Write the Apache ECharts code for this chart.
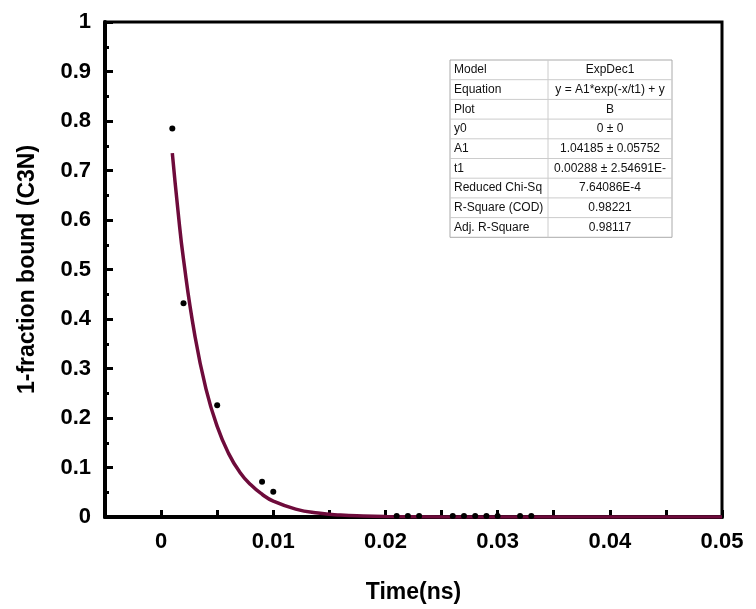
<!DOCTYPE html>
<html>
<head>
<meta charset="UTF-8">
<style>
  * { margin: 0; padding: 0; }
  #main { width: 756px; height: 609px; background: #fff; }
</style>
<script src="https://cdn.jsdelivr.net/npm/echarts@6/dist/echarts.min.js"></script>
</head>
<body>
<div id="main"></div>
<script>
var pointsX = [0.001, 0.002, 0.005, 0.009, 0.010, 0.021, 0.022, 0.023, 0.026, 0.027, 0.028, 0.029, 0.030, 0.032, 0.033];
var pointsY = [0.785, 0.432, 0.226, 0.071, 0.051, 0.002, 0.002, 0.002, 0.002, 0.002, 0.002, 0.002, 0.002, 0.002, 0.002];
var fitX = [0.001, 0.0015, 0.002, 0.003, 0.004, 0.005, 0.006, 0.007, 0.008, 0.009, 0.010, 0.012, 0.014, 0.016, 0.018, 0.020, 0.025, 0.030, 0.040, 0.050];
var fitY = [0.735, 0.62, 0.52, 0.368, 0.259, 0.183, 0.129, 0.091, 0.065, 0.046, 0.032, 0.016, 0.008, 0.004, 0.002, 0.001, 0.0002, 0, 0, 0];
var tableRows = [
  ['Model', 'ExpDec1'],
  ['Equation', 'y = A1*exp(-x/t1) + y'],
  ['Plot', 'B'],
  ['y0', '0 ± 0'],
  ['A1', '1.04185 ± 0.05752'],
  ['t1', '0.00288 ± 2.54691E-'],
  ['Reduced Chi-Sq', '7.64086E-4'],
  ['R-Square (COD)', '0.98221'],
  ['Adj. R-Square', '0.98117']
];

var zip = function (a, b) { return a.map(function (v, i) { return [v, b[i]]; }); };

// table drawn as graphic
var tx = 450, ty = 60, rh = 19.7, c1 = 98, c2 = 124;
var table = [{ type: 'rect', shape: { x: tx, y: ty, width: c1 + c2, height: rh * tableRows.length }, style: { fill: '#fff', stroke: '#aaa', lineWidth: 1 } }];
tableRows.forEach(function (r, i) {
  var y = ty + i * rh;
  if (i > 0) table.push({ type: 'line', shape: { x1: tx, y1: y, x2: tx + c1 + c2, y2: y }, style: { stroke: '#ccc', lineWidth: 1 } });
  table.push({ type: 'text', x: tx + 4, y: y + rh / 2, style: { text: r[0], fill: '#111', font: '12px Arial', verticalAlign: 'middle' } });
  table.push({ type: 'text', x: tx + c1 + c2 / 2, y: y + rh / 2, style: { text: r[1], fill: '#111', font: '12px Arial', align: 'center', verticalAlign: 'middle' } });
});
table.push({ type: 'line', shape: { x1: tx + c1, y1: ty, x2: tx + c1, y2: ty + rh * tableRows.length }, style: { stroke: '#ccc', lineWidth: 1 } });

var chart = echarts.init(document.getElementById('main'));
chart.setOption({
  animation: false,
  grid: { left: 105, right: 34, top: 22, bottom: 89, show: true, borderColor: '#000', borderWidth: 3 },
  xAxis: {
    type: 'value', min: -0.005, max: 0.05, interval: 0.005,
    name: 'Time(ns)', nameLocation: 'middle', nameGap: 64,
    nameTextStyle: { fontFamily: 'Arial', fontWeight: 'bold', fontSize: 23, color: '#000' },
    axisLine: { show: true, onZero: false, lineStyle: { color: '#000', width: 4 } },
    axisTick: { show: true, inside: true, length: 7, lineStyle: { color: '#000', width: 3 } },
    splitLine: { show: false },
    axisLabel: { fontFamily: 'Arial', fontWeight: 'bold', fontSize: 22, color: '#000', margin: 14, showMinLabel: true, showMaxLabel: true,
      formatter: function (v) {
        var k = Math.round(v * 1000);
        return (k % 10 === 0) ? String(k / 1000) : '';
      } }
  },
  yAxis: {
    type: 'value', min: 0, max: 1, interval: 0.1,
    name: '1-fraction bound (C3N)', nameLocation: 'middle', nameGap: 66,
    nameTextStyle: { fontFamily: 'Arial', fontWeight: 'bold', fontSize: 23, color: '#000' },
    axisLine: { show: true, onZero: false, lineStyle: { color: '#000', width: 4 } },
    axisTick: { show: true, inside: true, length: 8, lineStyle: { color: '#000', width: 3 } },
    minorTick: { show: true, splitNumber: 2, length: 4, lineStyle: { color: '#000', width: 3 } },
    splitLine: { show: false },
    axisLabel: { fontFamily: 'Arial', fontWeight: 'bold', fontSize: 22, color: '#000', margin: 14,
      formatter: function (v) { return String(Math.round(v * 10) / 10); } }
  },
  series: [
    { type: 'line', data: zip(fitX, fitY), smooth: true, showSymbol: false,
      lineStyle: { color: '#6e0b3b', width: 3.5 }, z: 2 },
    { type: 'scatter', data: zip(pointsX, pointsY), symbolSize: 6,
      itemStyle: { color: '#000', opacity: 1 }, z: 3 }
  ],
  graphic: table
});
</script>
</body>
</html>
